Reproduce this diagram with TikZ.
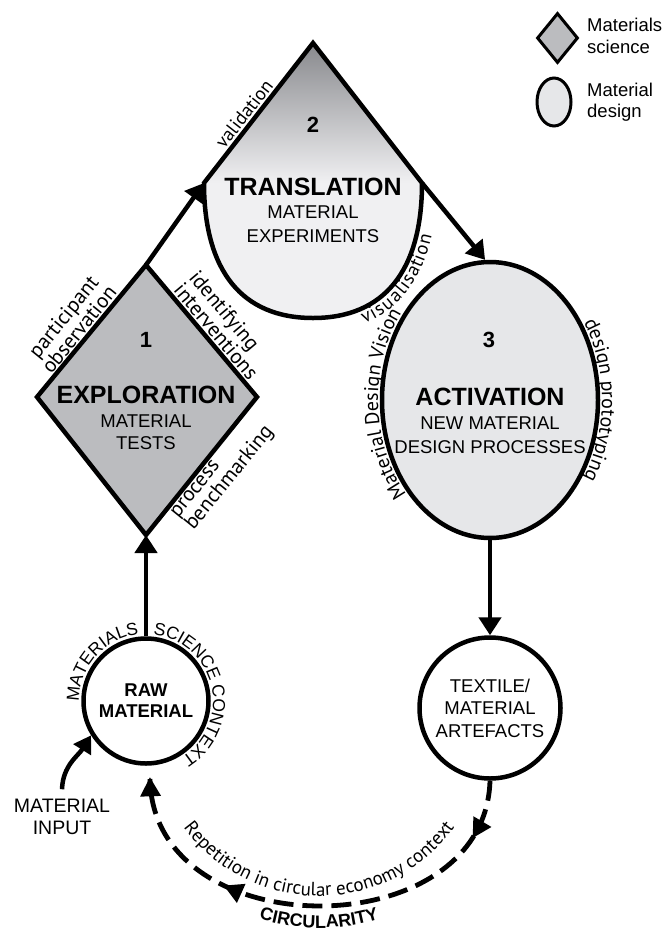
\documentclass[tikz,border=0pt]{standalone}
\usepackage{fontspec}
\setmainfont{Liberation Sans}
\newfontfamily\labelfont{PT Sans}
\usetikzlibrary{arrows.meta,decorations.text,decorations.markings,shapes.geometric}
\definecolor{sciencegray}{RGB}{187,188,191}
\definecolor{designgray}{RGB}{230,231,233}
\definecolor{droplight}{RGB}{240,240,242}
\definecolor{dropdark}{RGB}{136,137,141}
\newcommand{\myfs}[1]{\fontsize{#1}{#1}\selectfont}
\begin{document}
\begin{tikzpicture}[x=1pt,y=1pt,
  shapeline/.style={draw=black, line width=4.5pt, line join=miter},
  flow/.style={line width=4.5pt, -{Triangle[length=18pt,width=22pt]}},
  title/.style={font=\bfseries\myfs{25}, inner sep=0},
  sub/.style={font=\myfs{18.5}, inner sep=0},
  num/.style={font=\bfseries\myfs{22}, inner sep=0},
  lbl/.style={font=\labelfont\fontsize{21}{20}\selectfont, inner sep=0},
  legtext/.style={font=\myfs{18.5}, inner sep=0, anchor=base west}
]
\useasboundingbox (0,0) rectangle (668,-932);

% ---------- legend ----------
\node[diamond, draw, line width=3pt, fill=sciencegray, minimum width=41pt, minimum height=50pt, inner sep=0] (legsci) at (557.5,-38) {};
\node[ellipse, draw, line width=3pt, fill=designgray, minimum width=34pt, minimum height=48pt, inner sep=0] (legdes) at (554,-102) {};
\node[legtext] (legsci1) at (587,-31.5) {Materials};
\node[legtext] (legsci2) at (587,-53) {science};
\node[legtext] (legdes1) at (587,-96.5) {Material};
\node[legtext] (legdes2) at (587,-117) {design};

% ---------- 1 exploration diamond ----------
\coordinate (d1top) at (146,-265);
\coordinate (d1right) at (257,-397);
\coordinate (d1bottom) at (146,-535);
\coordinate (d1left) at (37,-397);
\draw[shapeline, fill=sciencegray] (d1top) -- (d1right) -- (d1bottom) -- (d1left) -- cycle;
\node[num] (n1) at (146,-340) {1};
\node[title] (t1) at (146,-395) {EXPLORATION};
\node[sub] (s1a) at (146,-421) {MATERIAL};
\node[sub] (s1b) at (146,-443) {TESTS};

% ---------- 2 translation drop ----------
\coordinate (apex) at (313,-43);
\coordinate (dropL) at (204,-183);
\coordinate (dropR) at (422,-183);
\coordinate (dropB) at (313,-318);
\fill[droplight] (apex) -- (dropL) .. controls (204,-271) and (242,-318) .. (dropB) .. controls (384,-318) and (422,-271) .. (dropR) -- cycle;
\shade[top color=dropdark, bottom color=droplight] (apex) -- (dropL) -- (dropR) -- cycle;
\draw[shapeline] (apex) -- (dropL) .. controls (204,-271) and (242,-318) .. (dropB) .. controls (384,-318) and (422,-271) .. (dropR) -- cycle;
\node[num] (n2) at (313,-125) {2};
\node[title] (t2) at (313,-187) {TRANSLATION};
\node[sub] (s2a) at (313,-212) {MATERIAL};
\node[sub] (s2b) at (313,-236) {EXPERIMENTS};

% ---------- 3 activation ellipse ----------
\node[ellipse, shapeline, fill=designgray, minimum width=216pt, minimum height=276pt, inner sep=0] (act) at (490,-400) {};
\node[num] (n3) at (489,-340) {3};
\node[title] (t3) at (490,-397) {ACTIVATION};
\node[sub] (s3a) at (490,-423) {NEW MATERIAL};
\node[sub] (s3b) at (490,-447) {DESIGN PROCESSES};

% ---------- raw material & artefacts ----------
\node[circle, shapeline, fill=white, minimum size=125pt, inner sep=0, align=center, font=\bfseries\fontsize{18.5}{21}\selectfont] (raw) at (146,-701) {RAW\\MATERIAL};
\node[circle, shapeline, fill=white, minimum size=141pt, inner sep=0, align=center, font=\fontsize{18.5}{22.5}\selectfont] (textile) at (490,-708) {TEXTILE/\\MATERIAL\\ARTEFACTS};

% ---------- main flow arrows ----------
\draw[flow] (raw.north) -- (d1bottom);
\draw[flow] (d1top) -- (dropL);
\draw[flow] (dropR) -- (act.92);
\draw[flow] (act.south) -- (textile.north);

% ---------- material input ----------
\node[inner sep=0, align=center, font=\fontsize{19.5}{21.5}\selectfont] (minput) at (62,-817) {MATERIAL\\INPUT};
\coordinate (inputstart) at ([yshift=10pt]minput.north);
\draw[line width=4.5pt, -{Triangle[length=17pt,width=20pt]}] (inputstart) to[out=88, in=238] (raw.212);

% ---------- circularity loop ----------
\coordinate (loopc) at (319,-728);
\coordinate (circend) at (150,-779);
\draw[line width=4.8pt, dash pattern=on 20pt off 9pt,
  postaction={decorate},
  decoration={markings,
    mark=at position 0.12 with {\fill (4,0) -- (-15,10.5) -- (-15,-10.5) -- cycle;},
    mark=at position 0.7 with {\fill (4,0) -- (-15,10.5) -- (-15,-10.5) -- cycle;},
    mark=at position 0.995 with {\fill (4,0) -- (-15,10.5) -- (-15,-10.5) -- cycle;}}]
  (textile.south) .. controls (485,-948) and (153,-948) .. (circend);

% ---------- edge labels ----------
\node[lbl, align=center, rotate=51] (lpart) at (71,-323) {participant\\observation};
\node[lbl, align=left, rotate=-50] (lident) at (224,-325) {identifying\\interventions};
\node[lbl, align=left, rotate=51] (lproc) at (223.5,-473) {process\\benchmarking};
\node[lbl, font=\labelfont\myfs{19}, rotate=52] (lvalid) at (244,-114) {validation};

% ---------- curved labels ----------
\path[decorate, decoration={text along path, text={|\labelfont\myfs{19}|visualisation}, text align={left indent=46pt}, raise=-15pt}]
  (dropB) .. controls (384,-318) and (422,-271) .. (dropR);
\path[decorate, decoration={text along path, text={|\labelfont\myfs{20}|Material Design Vision}, text align=center}]
  ([shift={(224:112 and 142)}]act.center) arc[start angle=224, end angle=140, x radius=112, y radius=142];
\path[decorate, decoration={text along path, text={|\labelfont\myfs{20}|design prototyping}, text align=center}]
  ([shift={(38:112 and 142)}]act.center) arc[start angle=38, end angle=-38, x radius=112, y radius=142];
\path[decorate, decoration={text along path, text={|\myfs{17.5}|MATERIALS}, text align=right}]
  ([shift={(195:67)}]raw.center) arc[start angle=195, end angle=96, radius=67];
\path[decorate, decoration={text along path, text={|\myfs{17.5}|SCIENCE CONTEXT}, text align=left}]
  ([shift={(84:67)}]raw.center) arc[start angle=84, end angle=-80, radius=67];
\path[decorate, decoration={text along path, text={|\labelfont\myfs{19}|Repetition in circular economy context}, text align=center}]
  ([shift={(-150:168)}]loopc) arc[start angle=-150, end angle=-30, radius=168];
\path[decorate, decoration={text along path, text={|\bfseries\myfs{18}|CIRCULARITY}, text align=center}]
  ([shift={(-125:200)}]loopc) arc[start angle=-125, end angle=-55, radius=200];
\end{tikzpicture}
\end{document}
